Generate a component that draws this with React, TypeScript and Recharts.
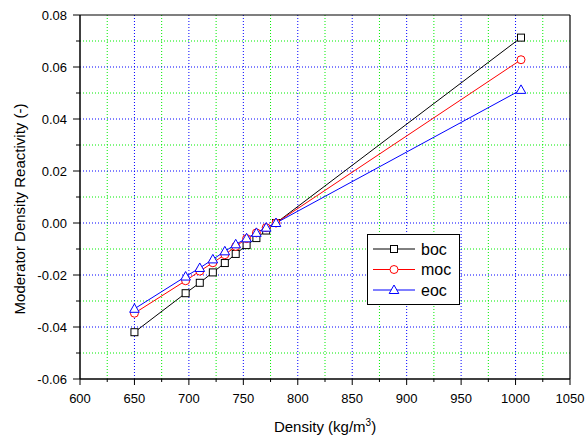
import React from 'react';
import { Line, LineChart, ReferenceLine, XAxis, YAxis } from 'recharts';

// Moderator density reactivity vs density, three burnup states
const density = [650, 697, 710, 722, 733, 743, 753, 762, 771, 780, 1005];
const boc = [-0.042, -0.027, -0.023, -0.019, -0.0154, -0.0119, -0.0085, -0.0058, -0.0029, 0.0, 0.0713];
const moc = [-0.0347, -0.0222, -0.0185, -0.0153, -0.0122, -0.009, -0.006, -0.0038, -0.0018, 0.0, 0.0628];
const eoc = [-0.033, -0.0206, -0.0173, -0.014, -0.0109, -0.0082, -0.0059, -0.0038, -0.0018, 0.0, 0.0512];

const xTicks = [600, 625, 650, 675, 700, 725, 750, 775, 800, 825, 850, 875, 900, 925, 950, 975, 1000, 1025, 1050];
const xMajorGrid = [650, 700, 750, 800, 850, 900, 950, 1000];
const xMinorGrid = [625, 675, 725, 775, 825, 875, 925, 975, 1025];
const yTicks = [-0.06, -0.05, -0.04, -0.03, -0.02, -0.01, 0, 0.01, 0.02, 0.03, 0.04, 0.05, 0.06, 0.07, 0.08];
const yMajorGrid = [-0.04, -0.02, 0, 0.02, 0.04, 0.06];
const yMinorGrid = [-0.05, -0.03, -0.01, 0.01, 0.03, 0.05, 0.07];

const series = [
  { key: 'boc', name: 'boc', color: '#000000', shape: 'square' },
  { key: 'moc', name: 'moc', color: '#ff0000', shape: 'circle' },
  { key: 'eoc', name: 'eoc', color: '#0000ff', shape: 'triangle' },
];

const data = density.map((d, i) => ({ density: d, boc: boc[i], moc: moc[i], eoc: eoc[i] }));

const FONT = '"Liberation Sans", Arial, sans-serif';
const MINOR = '#00ee00';
const MAJOR = '#0000ff';

function Marker({ cx, cy, shape, color }: { cx: number; cy: number; shape: string; color: string }) {
  if (shape === 'square') {
    return <rect x={cx - 3.5} y={cy - 3.5} width={7} height={7} fill="#fff" stroke={color} strokeWidth={1} />;
  }
  if (shape === 'circle') {
    return <circle cx={cx} cy={cy} r={4} fill="#fff" stroke={color} strokeWidth={1} />;
  }
  return (
    <polygon
      points={`${cx},${cy - 5} ${cx + 4.8},${cy + 3.5} ${cx - 4.8},${cy + 3.5}`}
      fill="#fff"
      stroke={color}
      strokeWidth={1}
    />
  );
}

function XTick({ x, y, payload }: { x?: number; y?: number; payload?: { value?: number } }) {
  const v = payload?.value ?? 0;
  const major = v % 50 === 0;
  return (
    <g>
      <line x1={x} x2={x} y1={y} y2={(y ?? 0) + (major ? 6 : 3)} stroke="#000" />
      {major && (
        <text x={x} y={(y ?? 0) + 24} textAnchor="middle" fontSize={13} fontFamily={FONT} fill="#000">
          {v}
        </text>
      )}
    </g>
  );
}

function YTick({ x, y, payload }: { x?: number; y?: number; payload?: { value?: number } }) {
  const v = payload?.value ?? 0;
  const major = Math.round(v * 100) % 2 === 0;
  return (
    <g>
      <line x1={(x ?? 0) - (major ? 7 : 4)} x2={x} y1={y} y2={y} stroke="#000" />
      {major && (
        <text x={(x ?? 0) - 13} y={(y ?? 0) + 4.6} textAnchor="end" fontSize={13} fontFamily={FONT} fill="#000">
          {v.toFixed(2)}
        </text>
      )}
    </g>
  );
}

function LegendBox() {
  return (
    <svg width={94} height={72} style={{ display: 'block' }}>
      <rect x={0.5} y={0.5} width={92} height={70} fill="#fff" stroke="#000" />
      {series.map((s, i) => {
        const cy = 15 + i * 20.5;
        return (
          <g key={s.key}>
            <line x1={6} x2={48} y1={cy} y2={cy} stroke={s.color} />
            <Marker cx={27} cy={cy} shape={s.shape} color={s.color} />
            <text x={54} y={cy + 5.5} fontSize={16} fontFamily={FONT} fill="#000">
              {s.name}
            </text>
          </g>
        );
      })}
    </svg>
  );
}

export default function App() {
  return (
    <div style={{ position: 'relative', width: 588, height: 441, background: '#fff' }}>
      <style>{'body{margin:0}'}</style>
      <LineChart width={588} height={441} data={data} margin={{ top: 15, right: 18, bottom: 0, left: 0 }}>
        {xMinorGrid.map((v) => (
          <ReferenceLine key={`xm${v}`} x={v} stroke={MINOR} strokeDasharray="1 2" />
        ))}
        {yMinorGrid.map((v) => (
          <ReferenceLine key={`ym${v}`} y={v} stroke={MINOR} strokeDasharray="1 2" />
        ))}
        {xMajorGrid.map((v) => (
          <ReferenceLine key={`xM${v}`} x={v} stroke={MAJOR} strokeDasharray="1 2" />
        ))}
        {yMajorGrid.map((v) => (
          <ReferenceLine key={`yM${v}`} y={v} stroke={MAJOR} strokeDasharray="1 2" />
        ))}
        <XAxis
          dataKey="density"
          type="number"
          domain={[600, 1050]}
          ticks={xTicks}
          interval={0}
          height={62}
          tickSize={0}
          tickMargin={0}
          tickLine={false}
          tick={<XTick />}
          axisLine={{ stroke: '#000', strokeWidth: 1.5 }}
          label={({ viewBox }: any) => (
            <text
              x={viewBox.x + viewBox.width / 2}
              y={viewBox.y + 53}
              textAnchor="middle"
              fontSize={15}
              fontFamily={FONT}
              fill="#000"
            >
              Density (kg/m
              <tspan dy={-6} fontSize={10}>3</tspan>
              <tspan dy={6}>)</tspan>
            </text>
          )}
        />
        <YAxis
          type="number"
          domain={[-0.06, 0.08]}
          ticks={yTicks}
          interval={0}
          width={80}
          tickSize={0}
          tickMargin={0}
          tickLine={false}
          tick={<YTick />}
          axisLine={{ stroke: '#000', strokeWidth: 1.5 }}
          label={({ viewBox }: any) => {
            const cx = 25;
            const cy = viewBox.y + viewBox.height / 2 + 12;
            return (
              <text
                x={cx}
                y={cy}
                transform={`rotate(-90, ${cx}, ${cy})`}
                textAnchor="middle"
                fontSize={15}
                fontFamily={FONT}
                fill="#000"
              >
                Moderator Density Reactivity (-)
              </text>
            );
          }}
        />
        <ReferenceLine y={0.08} stroke="#000" strokeWidth={1.2} />
        <ReferenceLine x={1050} stroke="#000" strokeWidth={1.2} />
        {series.map((s) => (
          <Line
            key={s.key}
            dataKey={s.key}
            name={s.name}
            stroke={s.color}
            strokeWidth={1}
            isAnimationActive={false}
            dot={(p: any) => <Marker key={`${s.key}-${p.index}`} cx={p.cx} cy={p.cy} shape={s.shape} color={s.color} />}
            activeDot={false}
          />
        ))}
      </LineChart>
      <div style={{ position: 'absolute', left: 367, top: 234 }}>
        <LegendBox />
      </div>
    </div>
  );
}
